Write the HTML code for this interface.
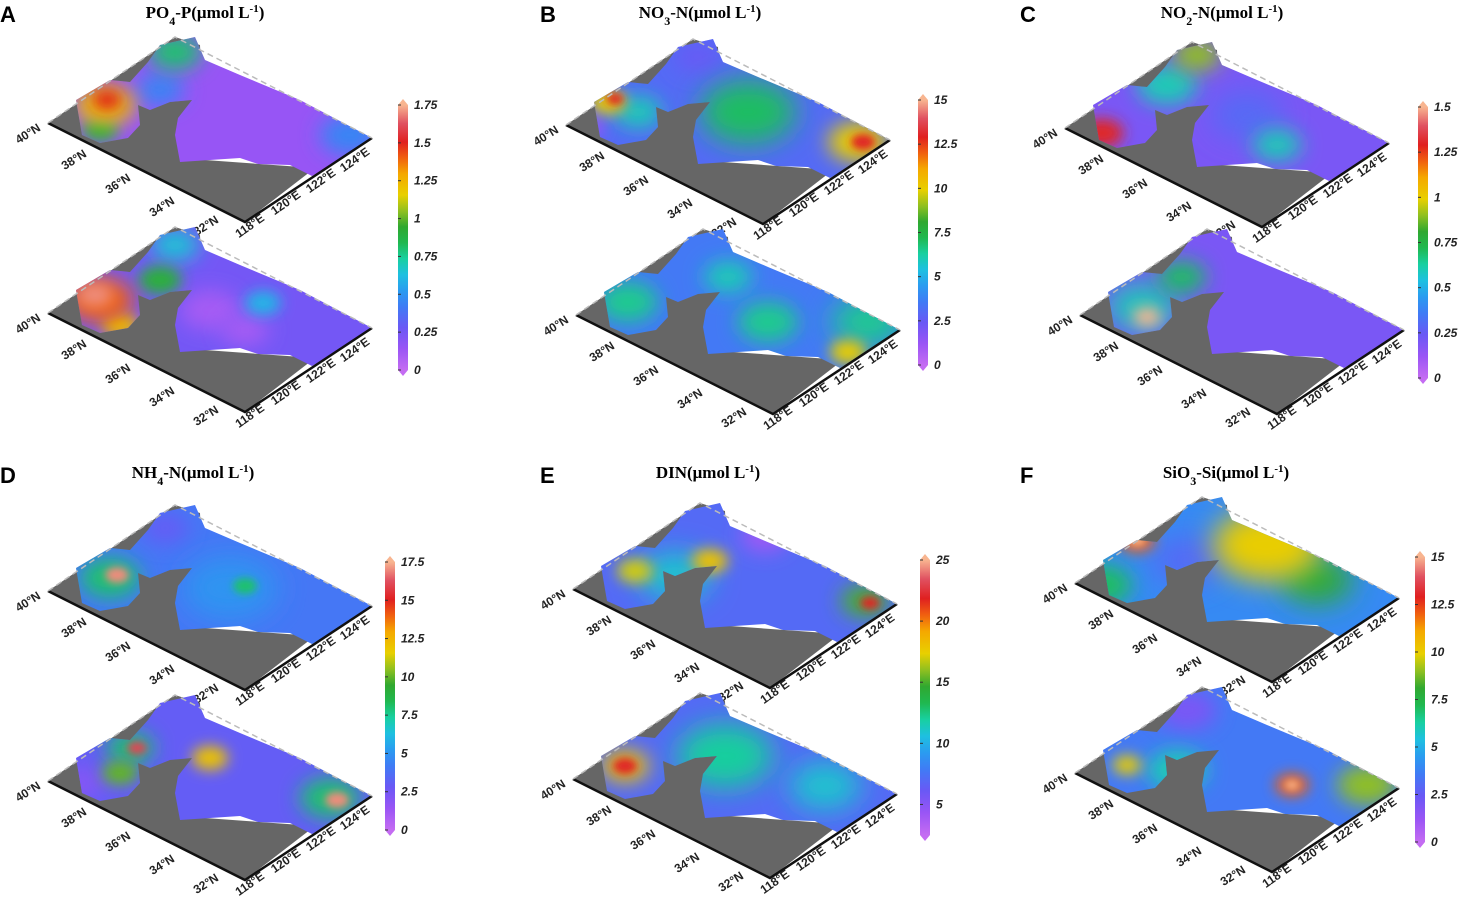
<!DOCTYPE html>
<html><head><meta charset="utf-8"><style>
html,body{margin:0;padding:0;background:#fff;}
svg{display:block;font-family:"Liberation Sans",sans-serif;}
.lt{font:bold 22px "Liberation Sans",sans-serif;}
.tt{font:bold 17px "Liberation Serif",serif;}
.cb{font:bold italic 12px "Liberation Sans",sans-serif;fill:#222;}
.ax{font:bold 12px "Liberation Sans",sans-serif;fill:#222;}
</style></head><body>
<svg id="fig" width="1477" height="911" viewBox="0 0 1477 911">
<defs>
<clipPath id="seaclip"><polygon points="76,100 110,80 130,82 148,62 160,45 195,37 205,60 240,75 300,100 372,138 340,160 312,176 290,165 258,164 240,158 180,162 175,135 178,118 192,100 170,102 150,110 138,105 140,125 128,138 100,143 82,135"/></clipPath>
</defs>
</svg>
<script>
const NS='http://www.w3.org/2000/svg';
const svg=document.getElementById('fig');
function mk(t,a,p){const e=document.createElementNS(NS,t);for(const k in a)e.setAttribute(k,a[k]);(p||svg).appendChild(e);return e;}

// panel meta
const panelLetters=['A','B','C','D','E','F'];
const panelMins=[0,0,0,0,2.5,0];
const panelMaxs=[1.75,15,1.5,17.5,25,15];
const ticksA=['0','0.25','0.5','0.75','1','1.25','1.5','1.75'];
const ticksB=['0','2.5','5','7.5','10','12.5','15'];
const ticksC=['0','0.25','0.5','0.75','1','1.25','1.5'];
const ticksD=['0','2.5','5','7.5','10','12.5','15','17.5'];
const ticksE=['5','10','15','20','25'];
const ticksF=['0','2.5','5','7.5','10','12.5','15'];
const tickSets=[ticksA,ticksB,ticksC,ticksD,ticksE,ticksF];

// map field data: base value and blobs [x,y,radius,value] for top/bottom maps
const baseTop=[0.15,3,0.2,4,7,4];
const baseBot=[0.25,3.5,0.2,3,7,3.5];
const blobsA1=[[160,90,20,0.45],[350,135,25,0.45],[175,52,22,0.8],[100,130,15,0.9],[105,105,25,1.2],[107,100,12,1.5]];
const blobsA2=[[210,120,25,0.1],[245,140,20,0.1],[263,113,15,0.6],[175,55,20,0.65],[160,90,18,0.9],[120,135,15,1.2],[100,110,28,1.4],[95,105,15,1.7]];
const blobsB1=[[70,125,15,1.5],[180,55,20,2.5],[120,110,20,6],[230,110,40,7],[90,100,15,10],[340,140,25,10],[97,97,7,13],[345,140,10,13]];
const blobsB2=[[200,85,20,6],[100,110,25,6.5],[240,130,25,6.5],[340,130,30,6.5],[320,160,15,10]];
const blobsC1=[[230,110,30,0.3],[150,80,25,0.6],[260,140,20,0.6],[180,50,20,0.9],[85,128,18,1.3]];
const blobsC2=[[110,115,30,0.6],[150,85,20,0.7],[115,125,12,1.5]];
const blobsD1=[[165,60,20,3],[230,120,40,5],[110,110,25,8],[245,118,10,8],[117,107,10,17]];
const blobsD2=[[80,125,20,2],[130,90,20,8],[330,140,25,8],[120,115,15,10],[210,100,15,12],[137,90,8,16],[337,142,10,17]];
const blobsE1=[[240,70,20,4],[150,110,30,11],[340,135,20,15],[110,105,15,17],[185,95,15,18],[345,137,8,22]];
const blobsE2=[[300,130,30,11],[200,100,40,12],[100,110,20,18],[100,110,10,22]];
const blobsF1=[[160,100,30,3],[75,125,25,7],[290,120,30,8],[240,85,45,10],[110,80,15,12],[110,80,7,15]];
const blobsF2=[[160,60,25,2],[150,120,25,6],[340,135,25,9],[100,115,12,10],[265,135,14,12],[265,135,6,15]];
const blobTop=[blobsA1,blobsB1,blobsC1,blobsD1,blobsE1,blobsF1];
const blobBot=[blobsA2,blobsB2,blobsC2,blobsD2,blobsE2,blobsF2];

// layout
const titles=['PO<tspan baseline-shift="sub" font-size="12">4</tspan>-P(μmol L<tspan baseline-shift="super" font-size="11">-1</tspan>)',
'NO<tspan baseline-shift="sub" font-size="12">3</tspan>-N(μmol L<tspan baseline-shift="super" font-size="11">-1</tspan>)',
'NO<tspan baseline-shift="sub" font-size="12">2</tspan>-N(μmol L<tspan baseline-shift="super" font-size="11">-1</tspan>)',
'NH<tspan baseline-shift="sub" font-size="12">4</tspan>-N(μmol L<tspan baseline-shift="super" font-size="11">-1</tspan>)',
'DIN(μmol L<tspan baseline-shift="super" font-size="11">-1</tspan>)',
'SiO<tspan baseline-shift="sub" font-size="12">3</tspan>-Si(μmol L<tspan baseline-shift="super" font-size="11">-1</tspan>)'];
const letterPos=[[0,22],[540,22],[1020,22],[0,483],[540,483],[1020,483]];
const titlePos=[[205,18],[700,18],[1222,18],[193,478],[708,478],[1226,478]];
const topOff=[[0,0],[518,2],[1017,5],[0,468],[525,466],[1027,460]];
const botOff=[[0,190],[528,192],[1032,192],[0,658],[525,656],[1027,650]];
const cbBox=[[398,105,370],[918,100,365],[1418,107,378],[385,562,830],[920,560,835],[1415,557,842]];

const stops=[[0,'#c46cf2'],[0.08,'#9a55f5'],[0.16,'#6a58f5'],[0.24,'#3f7cf5'],[0.3,'#2a9cf0'],[0.36,'#1ec0e0'],[0.42,'#18d0a0'],[0.48,'#20b850'],[0.54,'#30a830'],[0.6,'#90c020'],[0.66,'#e8d000'],[0.74,'#f5a800'],[0.8,'#f06010'],[0.86,'#e02020'],[0.93,'#e05060'],[1,'#f8b590']];
function hex(h){return [1,3,5].map(i=>parseInt(h.substr(i,2),16));}
function cmap(t){t=Math.max(0,Math.min(1,t));for(let i=1;i<stops.length;i++){if(t<=stops[i][0]){const a=stops[i-1],b=stops[i];const f=(t-a[0])/(b[0]-a[0]);const c1=hex(a[1]),c2=hex(b[1]);return 'rgb('+c1.map((v,k)=>Math.round(v+(c2[k]-v)*f)).join(',')+')';}}return stops[stops.length-1][1];}

const defs=svg.querySelector('defs');
const lg=mk('linearGradient',{id:'cbgrad',x1:0,y1:1,x2:0,y2:0},defs);
stops.forEach(s=>mk('stop',{offset:s[0],'stop-color':s[1]},lg));
[4,7,10,14].forEach(s=>{const f=mk('filter',{id:'bl'+s,x:'-100%',y:'-100%',width:'300%',height:'300%'},defs);mk('feGaussianBlur',{stdDeviation:s},f);});

const latLabels=['40°N','38°N','36°N','34°N','32°N'];
const latPos=[[30,137],[76,163],[120,187],[164,210],[208,229]];
const lonLabels=['118°E','120°E','122°E','124°E'];
const lonPos=[[252,229],[288,206],[323,184],[357,163]];

function drawMap(pi,off,base,blobs,which){
  const g=mk('g',{transform:'translate('+off[0]+','+off[1]+')'});
  
  
  const mn=panelMins[pi],mx=panelMaxs[pi];
  const land=mk('polygon',{points:'48,123 175,37 200,45 205,160 315,168 245,222',fill:'#666'},g);
  
  
  const sg=mk('g',{'clip-path':'url(#seaclip)'},g);
  const sea=mk('rect',{x:40,y:30,width:340,height:200,fill:cmap((base-mn)/(mx-mn))},sg);
  
  
  blobs.forEach(b=>{
    const r=b[2];const fl=r>=30?14:r>=20?10:r>=12?7:4;
    const c=mk('ellipse',{cx:b[0],cy:b[1],rx:r*1.2,ry:r*0.8,fill:cmap((b[3]-mn)/(mx-mn)),filter:'url(#bl'+fl+')'},sg);
    
    
  });
  mk('polyline',{points:'48,123 245,222 372,138',fill:'none',stroke:'#111','stroke-width':2.5},g);
  mk('polyline',{points:'48,123 175,37 372,138',fill:'none',stroke:'#bbb','stroke-width':1.5,'stroke-dasharray':'6,4'},g);
  latLabels.forEach((l,i)=>{const t=mk('text',{class:'ax',x:latPos[i][0],y:latPos[i][1],'text-anchor':'middle',transform:'rotate(-32 '+latPos[i][0]+' '+latPos[i][1]+')'},g);t.textContent=l;});
  lonLabels.forEach((l,i)=>{const t=mk('text',{class:'ax',x:lonPos[i][0],y:lonPos[i][1],'text-anchor':'middle',transform:'rotate(-35 '+lonPos[i][0]+' '+lonPos[i][1]+')'},g);t.textContent=l;});
}

for(let p=0;p<6;p++){
  const L=mk('text',{class:'lt',x:letterPos[p][0],y:letterPos[p][1]});L.textContent=panelLetters[p];
  
  
  const T=mk('text',{class:'tt',x:titlePos[p][0],y:titlePos[p][1],'text-anchor':'middle'});T.innerHTML=titles[p];
  
  
  drawMap(p,topOff[p],baseTop[p],blobTop[p],'top');
  drawMap(p,botOff[p],baseBot[p],blobBot[p],'bottom');
  const [cx,y0,y1]=cbBox[p];
  const cg=mk('g',{});
  
  
  mk('polygon',{points:(cx)+','+(y0)+' '+(cx+5)+','+(y0-6)+' '+(cx+10)+','+y0,fill:'#f8b590'},cg);
  mk('polygon',{points:(cx)+','+(y1)+' '+(cx+5)+','+(y1+6)+' '+(cx+10)+','+y1,fill:'#c46cf2'},cg);
  mk('rect',{x:cx,y:y0,width:10,height:y1-y0,fill:'url(#cbgrad)'},cg);
  const mn=panelMins[p],mx=panelMaxs[p];
  tickSets[p].forEach(s=>{
    const v=parseFloat(s);const y=y1-(v-mn)/(mx-mn)*(y1-y0);
    mk('line',{x1:cx,x2:cx+3,y1:y,y2:y,stroke:'#333','stroke-width':1},cg);
    const t=mk('text',{class:'cb',x:cx+16,y:y+4},cg);t.textContent=s;
    
    
  });
}
</script>
</body></html>
